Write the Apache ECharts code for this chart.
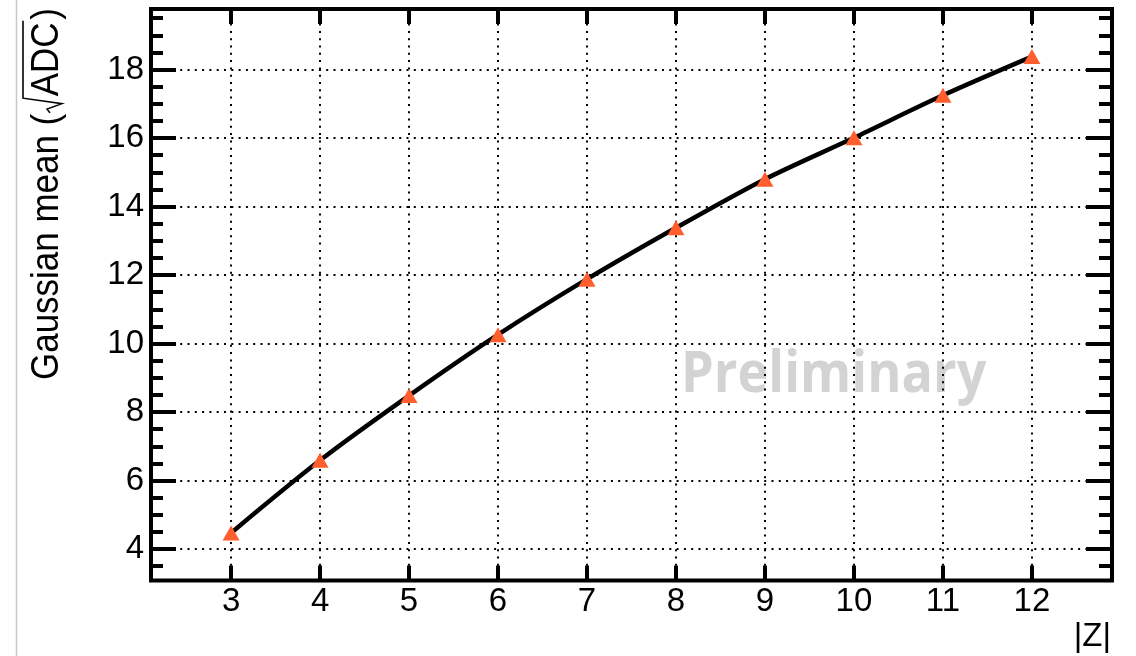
<!DOCTYPE html>
<html>
<head>
<meta charset="utf-8">
<script src="https://cdn.jsdelivr.net/npm/echarts@6/dist/echarts.min.js"></script>
<style>
html,body{margin:0;padding:0;background:#fff;}
#chart{width:1136px;height:656px;}
</style>
</head>
<body>
<div id="chart"></div>
<script>
// ---- data ----
const zValues = [3, 4, 5, 6, 7, 8, 9, 10, 11, 12];
const gaussMean = [4.47, 6.59, 8.48, 10.26, 11.88, 13.38, 14.80, 16.01, 17.25, 18.38];
const xTickValues = [3, 4, 5, 6, 7, 8, 9, 10, 11, 12];
const yTickValues = [4, 6, 8, 10, 12, 14, 16, 18];
const yMinorValues = [3.5, 4.5, 5, 5.5, 6.5, 7, 7.5, 8.5, 9, 9.5, 10.5, 11, 11.5, 12.5, 13, 13.5, 14.5, 15, 15.5, 16.5, 17, 17.5, 18.5, 19, 19.5];
const xRange = [2.1, 12.9];
const yRange = [3.08, 19.77];
const xTitle = '|Z|';
const yTitleParts = ['Gaussian mean (', 'ADC', ')'];
const watermark = 'Preliminary';

// ---- build ----
const FONT = '"Liberation Sans", Arial, Helvetica, sans-serif';
const chart = echarts.init(document.getElementById('chart'), null, {renderer: 'canvas'});

const gridLine = {show: true, lineStyle: {color: '#000', width: 2, type: [2, 5.3]}};

function xAx(pos, labels, split) {
  return {
    type: 'value', position: pos, min: xRange[0], max: xRange[1],
    axisLine: {show: false},
    axisTick: {show: true, inside: true, length: 15, lineStyle: {color: '#000', width: 4}, customValues: xTickValues},
    axisLabel: labels ? {show: true, customValues: xTickValues, fontSize: 33, color: '#000', fontFamily: FONT, margin: 5} : {show: false},
    splitLine: split ? gridLine : {show: false}
  };
}
function yAx(pos, values, len, labels, split) {
  return {
    type: 'value', position: pos, min: yRange[0], max: yRange[1],
    axisLine: {show: false},
    axisTick: {show: true, inside: true, length: len, lineStyle: {color: '#000', width: 4}, customValues: values},
    axisLabel: labels ? {show: true, customValues: yTickValues, fontSize: 33, color: '#000', fontFamily: FONT, margin: 7} : {show: false},
    splitLine: split ? gridLine : {show: false}
  };
}

// y title geometry (rotated group)
const TFS = 38;
const TSCALE = 0.92;
const ctx = document.createElement('canvas').getContext('2d');
ctx.font = TFS + 'px ' + FONT;
const w1 = ctx.measureText(yTitleParts[0]).width;
const wA = ctx.measureText(yTitleParts[1]).width;
const radW = 19;
const ovY = -25;

const option = {
  animation: false,
  backgroundColor: '#fff',
  grid: {left: 151, right: 24, top: 9, bottom: 75.5, show: true, borderColor: '#000', borderWidth: 4, backgroundColor: 'transparent'},
  xAxis: [xAx('bottom', true, true), xAx('top', false, false)],
  yAxis: [
    yAx('left', yTickValues, 25, true, true),
    yAx('left', yMinorValues, 12, false, false),
    yAx('right', yTickValues, 26, false, false),
    yAx('right', yMinorValues, 13, false, false)
  ],
  series: [{
    type: 'line',
    xAxisIndex: 0, yAxisIndex: 0,
    data: zValues.map((z, i) => [z, gaussMean[i]]),
    smooth: 0.3,
    lineStyle: {color: '#000', width: 4.5},
    symbol: 'triangle',
    symbolSize: [17, 15],
    itemStyle: {color: '#ff5f2e'},
    z: 5
  }],
  graphic: [
    {type: 'line', shape: {x1: 16.5, y1: 0, x2: 16.5, y2: 656}, style: {stroke: '#c8c8c8', lineWidth: 1.5}, silent: true},
    {type: 'text', x: 681, y: 376, scaleX: 0.915, z: -1, style: {text: watermark, font: 'bold 57px "Open Sans", sans-serif', fill: '#d3d3d3', verticalAlign: 'middle', align: 'left'}},
    {type: 'text', x: 1111, y: 637, style: {text: xTitle, font: '33px ' + FONT, fill: '#000', align: 'right', verticalAlign: 'middle'}},
    {
      type: 'group', x: 48, y: 380, rotation: Math.PI / 2, scaleX: TSCALE,
      children: [
        {type: 'text', x: 0, y: 0, style: {text: yTitleParts[0], font: TFS + 'px ' + FONT, fill: '#000', verticalAlign: 'middle', align: 'left'}},
        {type: 'polyline', shape: {points: [[w1 + 1, 2], [w1 + 5, -1], [w1 + 11, 14], [w1 + radW - 2, ovY], [w1 + radW + wA + 2, ovY]]}, style: {stroke: '#000', lineWidth: 1.6, fill: null}},
        {type: 'text', x: w1 + radW, y: 0, style: {text: yTitleParts[1], font: TFS + 'px ' + FONT, fill: '#000', verticalAlign: 'middle', align: 'left'}},
        {type: 'text', x: w1 + radW + wA + 3, y: 0, style: {text: yTitleParts[2], font: TFS + 'px ' + FONT, fill: '#000', verticalAlign: 'middle', align: 'left'}}
      ]
    }
  ]
};
chart.setOption(option);
</script>
</body>
</html>
